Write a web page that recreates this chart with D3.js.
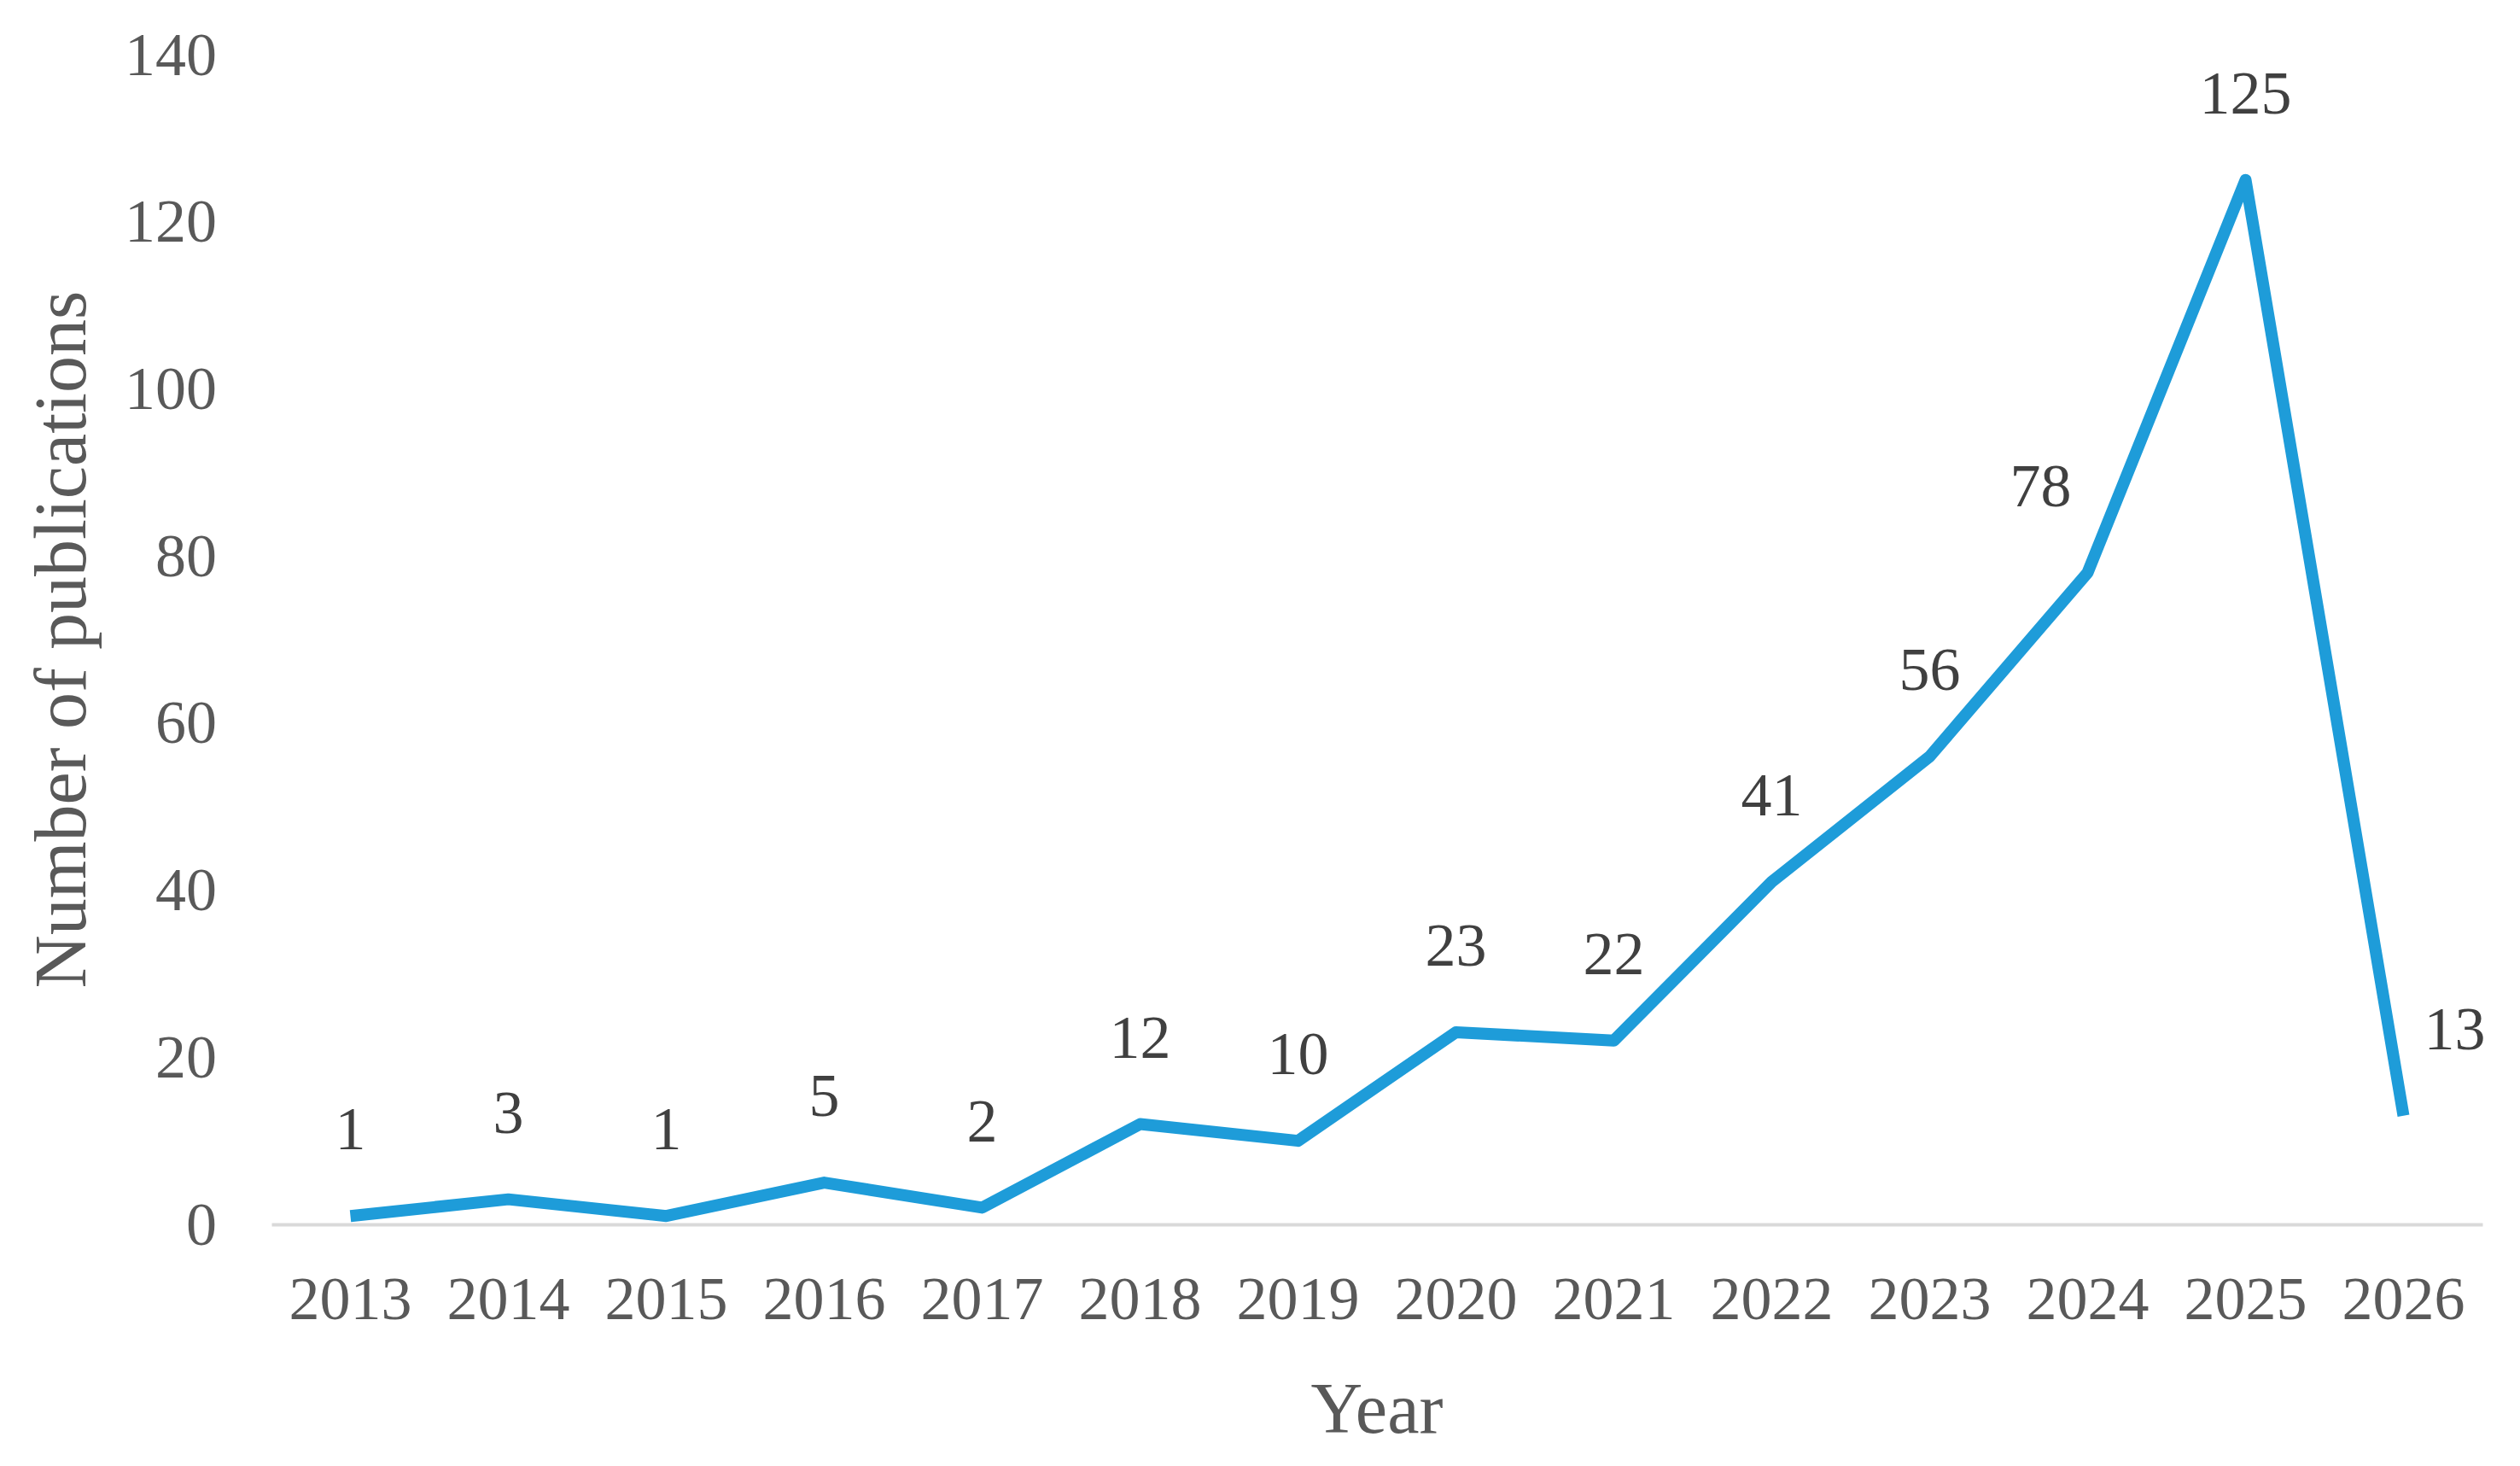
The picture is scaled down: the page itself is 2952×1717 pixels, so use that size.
<!DOCTYPE html>
<html>
<head>
<meta charset="utf-8">
<script src="https://cdn.jsdelivr.net/npm/d3@7"></script>
<style>
  body { margin: 0; background: #fff; }
  svg { display: block; font-family: "Liberation Serif", "Times New Roman", serif; }
</style>
</head>
<body>
<div id="chart"></div>
<script>
const width = 2952;
const height = 1717;

// data
const years = ['2013', '2014', '2015', '2016', '2017', '2018', '2019', '2020', '2021', '2022', '2023', '2024', '2025', '2026'];
const publications = [1, 3, 1, 5, 2, 12, 10, 23, 22, 41, 56, 78, 125, 13];
const yTicks = [0, 20, 40, 60, 80, 100, 120, 140];

// plot box
const margin = { top: 64, right: 44, bottom: 283, left: 318 };
const usableArea = {
  top: margin.top,
  right: width - margin.right,
  bottom: height - margin.bottom,
  left: margin.left,
};

// a couple of labels were nudged sideways in the original
const labelShift = { '2024': -55, '2026': 60 };

const svg = d3
  .select('#chart')
  .append('svg')
  .attr('width', width)
  .attr('height', height)
  .attr('viewBox', `0 0 ${width} ${height}`);

const xScale = d3
  .scaleBand()
  .domain(years)
  .range([usableArea.left, usableArea.right]);

const yScale = d3
  .scaleLinear()
  .domain([0, 140])
  .range([usableArea.bottom, usableArea.top]);

const xMid = (d) => xScale(d) + xScale.bandwidth() / 2;

// y axis labels only, no line
const yAxis = svg
  .append('g')
  .attr('transform', `translate(${usableArea.left - 64}, 0)`)
  .call(d3.axisLeft(yScale).tickValues(yTicks).tickSize(0).tickPadding(0));
yAxis.select('.domain').remove();
yAxis.selectAll('text')
  .attr('font-size', 72)
  .attr('font-family', '"Liberation Serif", serif')
  .attr('fill', '#595959');

// x axis: light baseline and year labels
const xAxis = svg
  .append('g')
  .attr('transform', `translate(0, ${usableArea.bottom})`)
  .call(d3.axisBottom(xScale).tickSize(0).tickPadding(60));
xAxis.select('.domain').attr('stroke', '#d9d9d9').attr('stroke-width', 4);
xAxis.selectAll('text')
  .attr('font-size', 72)
  .attr('font-family', '"Liberation Serif", serif')
  .attr('fill', '#595959');

// the series line
const line = d3
  .line()
  .x((d, i) => xMid(years[i]))
  .y((d) => yScale(d));

svg
  .append('path')
  .datum(publications)
  .attr('d', line)
  .attr('fill', 'none')
  .attr('stroke', '#1e9cd9')
  .attr('stroke-width', 14)
  .attr('stroke-linejoin', 'round');

// value labels above points
svg
  .append('g')
  .selectAll('text')
  .data(publications)
  .join('text')
  .attr('x', (d, i) => xMid(years[i]) + (labelShift[years[i]] || 0))
  .attr('y', (d) => yScale(d) - 103)
  .attr('dy', '0.35em')
  .attr('text-anchor', 'middle')
  .attr('font-size', 72)
  .attr('fill', '#404040')
  .text((d) => d);

// axis titles
svg
  .append('text')
  .attr('x', (usableArea.left + usableArea.right) / 2)
  .attr('y', 1678)
  .attr('text-anchor', 'middle')
  .attr('font-size', 84)
  .attr('fill', '#595959')
  .text('Year');

svg
  .append('text')
  .attr('transform', `translate(100, 749) rotate(-90)`)
  .attr('text-anchor', 'middle')
  .attr('font-size', 86)
  .attr('fill', '#595959')
  .text('Number of publications');
</script>
</body>
</html>
